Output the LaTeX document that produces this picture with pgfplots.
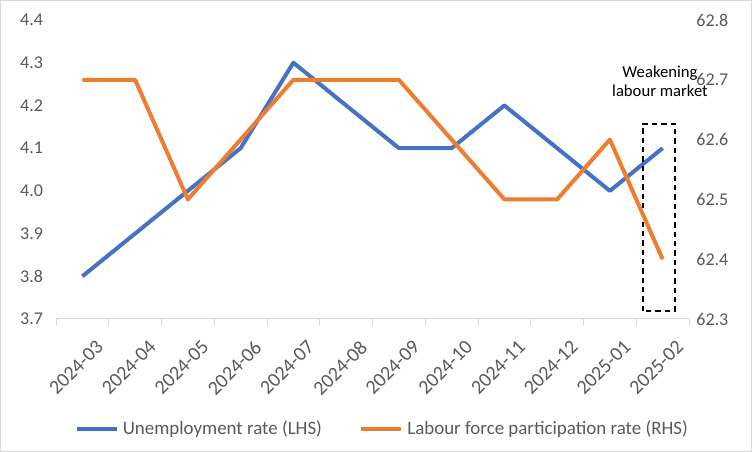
\documentclass[border=0pt]{standalone}
\usepackage{fontspec}
\setmainfont{Carlito}
\usepackage{pgfplots}
\pgfplotsset{compat=1.18}
\definecolor{UBlue}{HTML}{4472C4}
\definecolor{LOrange}{HTML}{ED7D31}
\definecolor{TickGray}{HTML}{595959}
\definecolor{AxisGray}{HTML}{D9D9D9}
\definecolor{FrameGray}{HTML}{D9D9D9}

\pgfplotsset{
  base/.style={
    scale only axis, width=474.75pt, height=224.25pt,
    at={(42pt,99.75pt)}, anchor=south west,
    xmin=-0.5, xmax=11.5,
    /pgf/number format/assume math mode=true,
    tick label style={font=\fontsize{13.5}{15}\selectfont, text=TickGray},
    ytick distance=0.1,
    yticklabel style={/pgf/number format/fixed, /pgf/number format/precision=1, /pgf/number format/fixed zerofill},
    major y tick style={draw=none},
    clip=false,
  },
}

\begin{document}
\begin{tikzpicture}
\draw[FrameGray, line width=1pt] (0.5pt,0.5pt) rectangle (563.5pt,338.5pt);

\begin{axis}[base,
  ymin=3.7, ymax=4.4,
  axis x line*=bottom, axis y line*=left,
  y axis line style={draw=none},
  x axis line style={AxisGray, line width=0.75pt},
  xtick={0,...,11},
  xticklabels={2024-03,2024-04,2024-05,2024-06,2024-07,2024-08,2024-09,2024-10,2024-11,2024-12,2025-01,2025-02},
  xticklabel style={rotate=45, anchor=north east, xshift=2.5pt, yshift=-11pt, font=\fontsize{15}{17}\selectfont},
  major x tick style={draw=none},
  minor xtick={-0.5,0.5,...,11.5},
  minor x tick style={AxisGray, line width=0.75pt},
  minor tick length=5pt, tick align=outside,
  yticklabel style={xshift=-2pt},
  legend style={at={(0.516,-0.368)}, anchor=center, draw=none, fill=none,
    legend columns=2, font=\fontsize{14.2}{16}\selectfont, text=TickGray,
    /tikz/every odd column/.append style={column sep=1pt},
    /tikz/every even column/.append style={column sep=26pt}},
  legend image code/.code={\draw[#1, line width=3pt] (0pt,0pt) -- (30pt,0pt);},
]
\addplot[UBlue, line width=3pt, line join=round] coordinates {
 (0,3.8) (1,3.9) (2,4.0) (3,4.1) (4,4.3) (5,4.2) (6,4.1) (7,4.1) (8,4.2) (9,4.1) (10,4.0) (11,4.1)};
\addlegendentry{Unemployment rate (LHS)}
\addlegendimage{LOrange}
\addlegendentry{Labour force participation rate (RHS)}

\draw[black, dashed, line width=1.2pt, dash pattern=on 4pt off 3pt] (axis cs:10.63,3.719) rectangle (axis cs:11.23,4.157);
\node[align=center, font=\fontsize{12.5}{14.5}\selectfont, inner sep=0pt] at (axis cs:10.95,4.257) {Weakening\\labour market};
\end{axis}

\begin{axis}[base,
  ymin=62.3, ymax=62.8,
  axis y line*=right, axis x line=none,
  y axis line style={draw=none},
  yticklabel style={xshift=2pt},
]
\addplot[LOrange, line width=3pt, line join=round] coordinates {
 (0,62.7) (1,62.7) (2,62.5) (3,62.6) (4,62.7) (5,62.7) (6,62.7) (7,62.6) (8,62.5) (9,62.5) (10,62.6) (11,62.4)};
\end{axis}
\end{tikzpicture}
\end{document}
